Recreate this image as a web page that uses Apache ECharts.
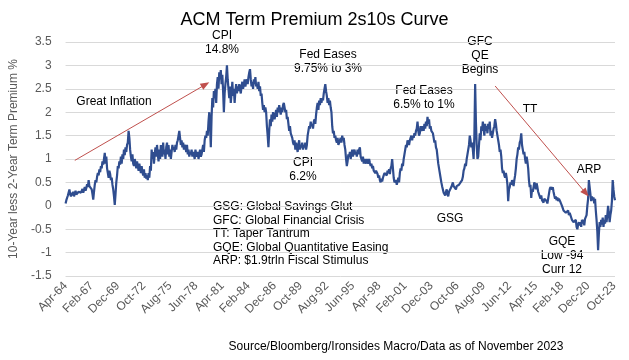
<!DOCTYPE html>
<html>
<head>
<meta charset="utf-8">
<script src="https://cdn.jsdelivr.net/npm/echarts@6/dist/echarts.min.js"></script>
<style>html,body{margin:0;padding:0;background:#fff}#c{width:629px;height:360px}</style>
</head>
<body>
<div id="c"></div>
<script>
// Monthly ACM term premium 10y less 2y (%), Apr-1964 .. Nov-2023
const startYear = 1964, startMonth = 3; // April (0-based)
const monthNames = ['Jan','Feb','Mar','Apr','May','Jun','Jul','Aug','Sep','Oct','Nov','Dec'];

const tp1960s = [
  0.05, 0.12, 0.1, 0.22, 0.18, 0.35, 0.25, 0.2, 0.28,                 // 1964 Apr-Dec
  0.22, 0.3, 0.2, 0.26, 0.32, 0.24, 0.28, 0.22, 0.3, 0.26, 0.33, 0.28, // 1965
  0.3, 0.36, 0.28, 0.34, 0.4, 0.32, 0.38, 0.46, 0.4, 0.55, 0.42, 0.45, // 1966
  0.4, 0.35, 0.25, 0.13, 0.3, 0.45, 0.55, 0.5, 0.62, 0.7, 0.65, 0.78,  // 1967
  0.72, 0.85, 0.8, 0.95, 0.88, 1.0, 1.13, 0.9, 1.05, 0.8, 0.7, 0.6,    // 1968
  0.75, 0.68, 0.55, 0.6, 0.45, 0.35, 0.2, 0.02, 0.25, 0.5, 0.65, 0.85  // 1969
];
const tp1970s = [
  0.8, 0.95, 0.88, 1.05, 0.9, 1.1, 1.0, 1.2, 1.08, 1.25, 1.15, 1.3,
  1.35, 1.6, 1.45, 1.2, 1.05, 0.95, 1.1, 0.9, 0.85, 1.0, 0.92, 0.8,
  0.95, 0.85, 0.75, 0.9, 0.8, 0.7, 0.85, 0.72, 0.65, 0.78, 0.6, 0.7,
  0.58, 0.65, 0.55, 0.7, 0.6, 0.85, 0.75, 1.2, 1.0, 1.15, 0.9, 1.1,
  1.25, 1.05, 1.3, 1.1, 0.95, 1.2, 1.0, 1.3, 1.15, 1.05, 1.35, 1.1,
  1.2, 1.0, 1.25, 1.35, 1.1, 1.3, 1.05, 1.2, 1.0, 1.15, 1.3, 1.2,
  1.25, 1.15, 1.3, 1.2, 1.35, 1.4, 1.5, 1.6, 1.45, 1.3, 1.4, 1.25,
  1.35, 1.2, 1.3, 1.25, 1.15, 1.3, 1.1, 1.2, 1.05, 1.15, 1.1, 1.2,
  1.05, 1.15, 1.1, 1.0, 1.2, 1.1, 1.05, 1.15, 1.0, 1.1, 1.2, 1.05,
  1.1, 1.2, 1.3, 1.15, 1.4, 1.5, 1.45, 1.6, 1.5, 1.8, 2.0, 1.7
];
const tp1980s = [
  1.25, 1.9, 2.3, 2.1, 2.45, 2.3, 2.5, 2.2, 2.6, 2.75, 2.5, 2.85,
  2.7, 2.9, 2.6, 2.8, 2.45, 2.0, 2.4, 2.6, 2.75, 3.0, 2.7, 2.5,
  2.3, 2.55, 2.2, 2.4, 2.65, 2.35, 2.5, 2.2, 2.45, 2.6, 2.4, 2.55,
  2.45, 2.6, 2.5, 2.4, 2.55, 2.65, 2.5, 2.6, 2.7, 2.55, 2.65, 2.7,
  2.6, 2.75, 2.85, 2.92, 2.7, 2.55, 2.65, 2.5, 2.7, 2.6, 2.75, 2.55,
  2.6, 2.5, 2.65, 2.45, 2.55, 2.35, 2.4, 2.2, 2.05, 2.15, 2.0, 2.1,
  2.0, 1.7, 1.5, 1.25, 1.6, 1.85, 1.7, 1.95, 1.8, 2.0, 1.9, 1.85,
  1.95, 2.05, 1.9, 2.1, 2.0, 2.15, 2.05, 1.95, 2.1, 2.0, 2.15, 2.2,
  2.1, 2.0, 2.05, 1.85, 1.9, 1.75, 1.6, 1.7, 1.55, 1.5, 1.45, 1.35,
  1.3, 1.4, 1.2, 1.35, 1.25, 1.15, 1.3, 1.4, 1.2, 1.3, 1.25, 1.35
];
const tp1990s = [
  1.2, 1.3, 1.25, 1.35, 1.2, 1.3, 1.5, 1.6, 1.7, 1.65, 1.8, 1.7,
  1.75, 1.65, 1.8, 1.85, 1.75, 1.95, 2.1, 2.2, 2.05, 2.25, 2.15, 2.3,
  2.2, 2.3, 2.25, 2.4, 2.5, 2.6, 2.45, 2.35, 2.2, 2.3, 2.15, 2.25,
  2.1, 2.0, 1.7, 1.55, 1.6, 1.45, 1.5, 1.4, 1.35, 1.45, 1.3, 1.35,
  1.4, 1.45, 1.35, 1.5, 1.4, 1.45, 1.3, 1.2, 1.0, 0.85, 0.95, 1.1,
  1.05, 1.15, 1.0, 1.1, 1.2, 1.05, 1.15, 1.2, 1.1, 1.15, 1.05, 1.2,
  1.1, 1.2, 1.25, 1.05, 1.0, 0.95, 1.05, 0.9, 1.0, 0.95, 0.9, 1.0,
  0.95, 0.9, 1.0, 0.92, 0.85, 0.9, 0.8, 0.85, 0.75, 0.78, 0.7, 0.75,
  0.72, 0.68, 0.6, 0.65, 0.55, 0.5, 0.58, 0.52, 0.6, 0.65, 0.7, 0.68,
  0.72, 0.65, 0.75, 0.7, 0.78, 0.68, 0.8, 0.85, 1.0, 0.8, 0.6, 0.5
];
const tp2000s = [
  0.48, 0.55, 0.45, 0.52, 0.6, 0.5, 0.7, 0.8, 0.75, 0.9, 0.85, 1.0,
  1.1, 1.2, 1.3, 1.25, 1.4, 1.35, 1.3, 1.4, 1.45, 1.5, 1.4, 1.5,
  1.45, 1.55, 1.5, 1.6, 1.65, 1.8, 1.6, 1.5, 1.55, 1.7, 1.6, 1.65,
  1.7, 1.6, 1.75, 1.65, 1.8, 1.7, 1.9, 1.75, 1.85, 1.65, 1.7, 1.6,
  1.6, 1.55, 1.45, 1.35, 1.4, 1.25, 1.2, 1.05, 0.9, 0.8, 0.7, 0.6,
  0.5, 0.42, 0.35, 0.28, 0.32, 0.22, 0.3, 0.35, 0.25, 0.2, 0.3, 0.27,
  0.3, 0.4, 0.45, 0.5, 0.42, 0.45, 0.4, 0.35, 0.42, 0.38, 0.4, 0.45,
  0.42, 0.5, 0.48, 0.55, 0.62, 0.75, 0.8, 0.9, 0.85, 1.0, 1.1, 1.2,
  1.3, 1.5, 1.4, 1.25, 1.35, 1.2, 1.0, 1.5, 2.6, 1.8, 1.3, 1.0,
  1.05, 1.3, 1.55, 1.4, 1.7, 1.6, 1.8, 1.65, 1.5, 1.75, 1.6, 1.7
];
const tp2010s = [
  1.55, 1.75, 1.65, 1.8, 1.5, 1.6, 1.45, 1.55, 1.65, 1.7, 1.85, 1.75,
  1.6, 1.5, 1.4, 1.3, 1.15, 1.2, 1.05, 0.8, 0.7, 0.75, 0.65, 0.6,
  0.7, 0.6, 0.45, 0.1, 0.35, 0.4, 0.5, 0.45, 0.55, 0.5, 0.42, 0.55,
  0.65, 0.8, 1.0, 1.1, 1.25, 1.2, 1.35, 1.4, 1.55, 1.3, 1.2, 1.1,
  1.15, 1.0, 0.9, 1.05, 0.95, 0.8, 0.55, 0.4, 0.45, 0.17, 0.35, 0.3,
  0.4, 0.5, 0.45, 0.35, 0.48, 0.4, 0.3, 0.25, 0.2, 0.15, 0.22, 0.12,
  0.1, 0.07, 0.15, 0.12, 0.18, 0.1, 0.05, 0.15, 0.25, 0.35, 0.4, 0.38,
  0.35, 0.4, 0.3, 0.22, 0.15, 0.2, 0.12, 0.18, 0.1, 0.15, 0.12, 0.08,
  0.05, 0.0, -0.05, -0.1, -0.12, -0.08, -0.15, -0.12, -0.18, -0.1, -0.2, -0.15,
  -0.2, -0.25, -0.3, -0.28, -0.35, -0.32, -0.38, -0.3, -0.45, -0.5, -0.4, -0.35
];
const tp2020s = [
  -0.42, -0.35, -0.45, -0.3, -0.38, -0.3, -0.42, -0.28, -0.3, -0.2, 0.0, 0.15,
  0.55, 0.4, 0.25, 0.1, 0.2, 0.12, 0.18, 0.05, 0.15, -0.1, -0.3, -0.55,
  -0.95, -0.6, -0.35, -0.45, -0.3, -0.4, -0.25, -0.45, -0.3, -0.38, -0.2, -0.35,
  -0.2, 0.0, -0.15, -0.35, -0.2, -0.1, 0.1, 0.55, 0.35, 0.2, 0.12   // 2023 Jan-Nov
];

const yTicks = { min: -1.5, max: 3.5, step: 0.5 };
const labelEvery = 34; // months between shown category labels

const values = [].concat(tp1960s, tp1970s, tp1980s, tp1990s, tp2000s, tp2010s, tp2020s);
const categories = values.map((_, k) => {
  const m = (startMonth + k) % 12;
  const y = startYear + Math.floor((startMonth + k) / 12);
  return monthNames[m] + '-' + String(y % 100).padStart(2, '0');
});

const FONT = '"Liberation Sans", Arial, sans-serif';
const arrowColor = '#C0504D';
const chart = echarts.init(document.getElementById('c'), null, { renderer: 'canvas' });

function txt(x, y, text, align, extra) {
  return Object.assign({
    type: 'text', silent: true,
    style: { x: x, y: y, text: text, align: align || 'center', verticalAlign: 'middle',
      fontSize: 12, fontFamily: FONT, fill: '#000', lineHeight: 14 }
  }, extra || {});
}

chart.setOption({
  animation: false,
  backgroundColor: '#fff',
  title: {
    text: 'ACM Term Premium 2s10s Curve', left: 'center', top: 6,
    textStyle: { fontSize: 18, fontWeight: 'normal', color: '#000', fontFamily: FONT }
  },
  grid: { left: 58, right: 14, top: 42, bottom: 84, containLabel: false },
  xAxis: {
    type: 'category', data: categories, boundaryGap: false,
    axisLine: { show: false }, axisTick: { show: false },
    axisLabel: { interval: labelEvery - 1, rotate: 45, fontSize: 12, color: '#595959', fontFamily: FONT, margin: 8 },
    splitLine: { show: false }
  },
  yAxis: {
    type: 'value', min: yTicks.min, max: yTicks.max, interval: yTicks.step,
    name: '10-Year less 2-Year Term Premium %', nameLocation: 'middle', nameGap: 36,
    nameTextStyle: { fontSize: 12, color: '#595959', fontFamily: FONT },
    axisLine: { show: false }, axisTick: { show: false },
    axisLabel: { fontSize: 12, color: '#595959', fontFamily: FONT, margin: 14 },
    splitLine: { lineStyle: { color: '#d9d9d9', width: 1 } }
  },
  series: [{
    type: 'line', data: values, showSymbol: false, symbol: 'none',
    lineStyle: { color: '#2F4D8F', width: 2.2 },
    markLine: {
      silent: true, symbol: ['none', 'triangle'], symbolSize: [7, 9],
      label: { show: false },
      lineStyle: { color: arrowColor, width: 1, type: 'solid' },
      data: [
        [{ coord: ['Apr-65', 0.97] }, { coord: ['Jun-79', 2.59] }],
        [{ coord: ['Nov-10', 2.56] }, { coord: ['Sep-20', 0.27] }]
      ]
    }
  }],
  graphic: [
    txt(114, 102, 'Great Inflation'),
    txt(222, 43, 'CPI\n14.8%'),
    txt(328, 62, 'Fed Eases\n9.75% to 3%'),
    txt(303, 170, 'CPI\n6.2%'),
    txt(424, 98, 'Fed Eases\n6.5% to 1%'),
    txt(480, 56, 'GFC\nQE\nBegins'),
    txt(530, 110, 'TT'),
    txt(450, 219, 'GSG'),
    txt(589, 170, 'ARP'),
    txt(562, 256, 'GQE\nLow -94\nCurr 12'),
    {
      type: 'text', silent: true,
      style: { x: 213, y: 234, align: 'left', verticalAlign: 'middle', fontSize: 12, fontFamily: FONT,
        fill: '#000', lineHeight: 13.5,
        text: 'GSG: Global Savings Glut\nGFC: Global Financial Crisis\nTT: Taper Tantrum\nGQE: Global Quantitative Easing\nARP: $1.9trln Fiscal Stimulus' }
    },
    txt(396, 347, 'Source/Bloomberg/Ironsides Macro/Data as of November 2023', 'center', null)
  ]
});
if (values.length !== 716) console.error('count', values.length);
</script>
</body>
</html>
